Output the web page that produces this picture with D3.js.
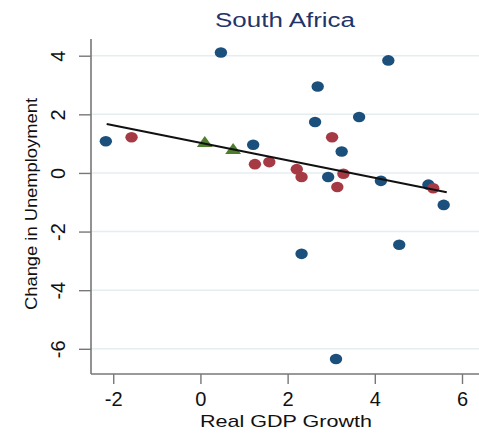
<!DOCTYPE html>
<html>
<head>
<meta charset="utf-8">
<script src="https://cdn.jsdelivr.net/npm/d3@7"></script>
<style>
  html, body { margin: 0; padding: 0; background: #fff; }
  svg { display: block; font-family: "Liberation Sans", Arial, sans-serif; }
</style>
</head>
<body>
<svg id="chart" width="479" height="433"></svg>
<script>
// Okun-style scatter: real GDP growth vs change in unemployment
const title = "South Africa";
const xLabel = "Real GDP Growth";
const yLabel = "Change in Unemployment";

const xTicks = [-2, 0, 2, 4, 6];
const yTicks = [-6, -4, -2, 0, 2, 4];

// series 1 (blue circles): [growth, change in unemployment]
const blueX = [-2.17, 0.47, 1.21, 2.63, 2.69, 3.24, 2.93, 3.64, 4.31, 4.14, 5.23, 5.58, 2.32, 4.56, 3.11];
const blueY = [1.08, 4.11, 0.96, 1.74, 2.95, 0.73, -0.14, 1.91, 3.84, -0.27, -0.40, -1.09, -2.76, -2.45, -6.35];

// series 2 (red circles)
const redX = [-1.58, 1.25, 1.58, 2.21, 2.32, 3.02, 3.28, 3.14, 5.34];
const redY = [1.22, 0.30, 0.37, 0.13, -0.14, 1.22, -0.03, -0.48, -0.52];

// series 3 (green triangles)
const greenX = [0.10, 0.75];
const greenY = [1.01, 0.77];

// fitted line
const fitX = [-2.15, 5.65];
const fitY = [1.67, -0.66];

const colors = { blue: "#1b4f7c", red: "#a63a44", green: "#4f7d2e", title: "#1f3569" };

const svg = d3.select("#chart");
const plotLeft = 91, plotRight = 479, plotTop = 39, plotBottom = 374;

const x = d3.scaleLinear().domain([-2.51, 6.39]).range([plotLeft, plotRight]);
const y = d3.scaleLinear().domain([-6.86, 4.57]).range([plotBottom, plotTop]);

// plain hyphen for negative tick values
const fmt = d => String(d);

// horizontal grid lines
svg.append("g").selectAll("line").data(yTicks).join("line")
  .attr("x1", plotLeft).attr("x2", plotRight)
  .attr("y1", d => y(d)).attr("y2", d => y(d))
  .attr("stroke", "#e4edf0").attr("stroke-width", 1.5);

// y axis
const yAxis = svg.append("g").attr("transform", `translate(${plotLeft},0)`)
  .call(d3.axisLeft(y).tickValues(yTicks).tickSize(12).tickFormat(fmt));
yAxis.select(".domain").attr("stroke", "#777").attr("stroke-width", 1.6)
  .attr("d", `M0,${plotTop}V${plotBottom}`);
yAxis.selectAll(".tick line").attr("stroke", "#777").attr("stroke-width", 1.4);
yAxis.selectAll(".tick text")
  .attr("x", null).attr("dy", null)
  .attr("transform", "translate(-26,0) rotate(-90)")
  .attr("text-anchor", "middle")
  .attr("font-size", 20).attr("fill", "#111")
  .attr("font-family", "Liberation Sans, Arial, sans-serif");

// x axis
const xAxis = svg.append("g").attr("transform", `translate(0,${plotBottom})`)
  .call(d3.axisBottom(x).tickValues(xTicks).tickSize(10).tickFormat(fmt));
xAxis.select(".domain").attr("stroke", "#777").attr("stroke-width", 1.6)
  .attr("d", `M${plotLeft},0H${plotRight}`);
xAxis.selectAll(".tick line").attr("stroke", "#777").attr("stroke-width", 1.4);
xAxis.selectAll(".tick text")
  .attr("y", 32).attr("dy", null)
  .attr("font-size", 20).attr("fill", "#111")
  .attr("font-family", "Liberation Sans, Arial, sans-serif");

// points
const plot = svg.append("g");
function dots(xs, ys, color) {
  plot.append("g").selectAll("ellipse").data(xs.map((v, i) => [v, ys[i]])).join("ellipse")
    .attr("cx", d => x(d[0])).attr("cy", d => y(d[1]))
    .attr("rx", 6.2).attr("ry", 5.3)
    .attr("fill", color);
}
dots(blueX, blueY, colors.blue);
dots(redX, redY, colors.red);

const tri = d3.symbol().type(d3.symbolTriangle).size(70);
plot.append("g").selectAll("path").data(greenX.map((v, i) => [v, greenY[i]])).join("path")
  .attr("d", tri)
  .attr("transform", d => `translate(${x(d[0])},${y(d[1])}) scale(1.25,1)`)
  .attr("fill", colors.green);

// fitted line
svg.append("path")
  .datum(fitX.map((v, i) => [v, fitY[i]]))
  .attr("d", d3.line().x(d => x(d[0])).y(d => y(d[1])))
  .attr("stroke", "#111").attr("stroke-width", 2).attr("fill", "none");

// titles
svg.append("text").text(title)
  .attr("x", 285).attr("y", 27).attr("text-anchor", "middle")
  .attr("font-size", 20).attr("fill", colors.title)
  .attr("textLength", 140).attr("lengthAdjust", "spacingAndGlyphs");

svg.append("text").text(xLabel)
  .attr("x", 286).attr("y", 427).attr("text-anchor", "middle")
  .attr("font-size", 17).attr("fill", "#111")
  .attr("textLength", 172).attr("lengthAdjust", "spacingAndGlyphs");

svg.append("text").text(yLabel)
  .attr("transform", "translate(37,204) rotate(-90)")
  .attr("text-anchor", "middle")
  .attr("font-size", 16).attr("fill", "#111")
  .attr("textLength", 212).attr("lengthAdjust", "spacingAndGlyphs");
</script>
</body>
</html>
